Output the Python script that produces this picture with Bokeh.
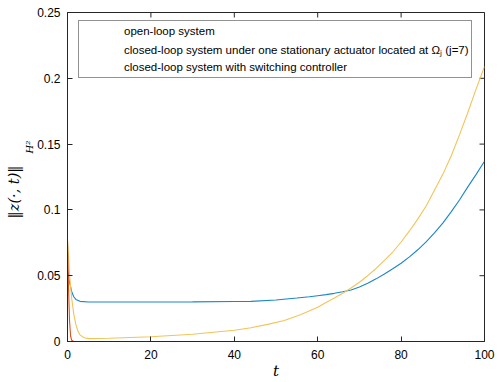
from bokeh.plotting import figure
from bokeh.models import Legend, LegendItem, FixedTicker, Range1d, Title
from bokeh.embed import file_html
from bokeh.resources import INLINE

# ---------------- data ----------------
t_open = [0, 0.5, 1, 1.5, 2, 3, 5, 10, 20, 30, 40, 44, 50, 55, 58, 60, 62, 64,
          66, 68, 70, 72, 74, 76, 78, 80, 82, 84, 86, 88, 90, 92, 94, 96, 98, 100]
z_open = [0.055, 0.045, 0.038, 0.034, 0.032, 0.0305, 0.0300, 0.0300, 0.0300,
          0.0301, 0.0304, 0.0305, 0.0315, 0.033, 0.034, 0.0348, 0.0356, 0.0366,
          0.0378, 0.0392, 0.0414, 0.0442, 0.0476, 0.0513, 0.0553, 0.0595,
          0.0643, 0.0697, 0.0757, 0.0825, 0.0900, 0.0985, 0.1075, 0.1175,
          0.127, 0.137]

t_stat = [0, 0.5, 1, 1.5, 2, 2.5, 3, 4, 5, 10, 20, 30, 40, 44, 48, 52, 56, 60,
          62, 64, 66, 68, 70, 72, 74, 76, 78, 80, 82, 84, 86, 88, 90, 92, 94,
          96, 98, 100]
z_stat = [0.077, 0.05, 0.033, 0.021, 0.013, 0.008, 0.005, 0.0028, 0.0022,
          0.0025, 0.0036, 0.0055, 0.0085, 0.0105, 0.013, 0.016, 0.0205, 0.026,
          0.0297, 0.033, 0.0366, 0.0406, 0.045, 0.050, 0.0555, 0.0616, 0.068,
          0.0756, 0.084, 0.093, 0.103, 0.115, 0.127, 0.141, 0.157, 0.174,
          0.192, 0.209]

t_switch = [0, 0.25, 0.5, 0.75, 1, 1.5, 100]
z_switch = [0.077, 0.04, 0.015, 0.004, 0.001, 0.0, 0.0]

x_ticks = [0, 20, 40, 60, 80, 100]
y_ticks = [0, 0.05, 0.1, 0.15, 0.2, 0.25]
y_tick_labels = ["0", "0.05", "0.1", "0.15", "0.2", "0.25"]

labels = ["open-loop system",
          "closed-loop system under one stationary actuator located at \u03a9\u2c7c (j=7)",
          "closed-loop system with switching controller"]
colors = ["#1A86C8", "#F2C458", "#D95319"]

# ---------------- figure ----------------
AX = "#262626"
X0, X1, Y0, Y1 = 0, 100, 0, 0.25
p = figure(width=499, height=382, output_backend="svg", toolbar_location=None,
           x_range=Range1d(X0, X1), y_range=Range1d(Y0, Y1),
           min_border_left=67, min_border_right=15, min_border_top=12,
           min_border_bottom=40)
p.background_fill_color = "white"
p.border_fill_color = "white"
p.outline_line_color = AX
p.outline_line_width = 1
p.xgrid.visible = False
p.ygrid.visible = False

# inward tick marks on the top and right edges of the box (5 px long)
tick_dx = 5 * (X1 - X0) / 417.0
tick_dy = 5 * (Y1 - Y0) / 330.0
p.segment(x0=x_ticks, y0=[Y1] * len(x_ticks), x1=x_ticks, y1=[Y1 - tick_dy] * len(x_ticks),
          line_color=AX, line_width=1)
p.segment(x0=[X1] * len(y_ticks), y0=y_ticks, x1=[X1 - tick_dx] * len(y_ticks), y1=y_ticks,
          line_color=AX, line_width=1)

# ---------------- lines ----------------
r1 = p.line(t_open, z_open, line_color=colors[0], line_width=1.1)
r2 = p.line(t_stat, z_stat, line_color=colors[1], line_width=1.1)
r3 = p.line(t_switch, z_switch, line_color=colors[2], line_width=1.1)

# legend proxies: separate empty renderers carrying each series' colour
k1 = p.line([], [], line_color=colors[0], line_width=1.3)
k2 = p.line([], [], line_color=colors[1], line_width=1.3)
k3 = p.line([], [], line_color=colors[2], line_width=1.3)

legend = Legend(items=[LegendItem(label=labels[0], renderers=[k1]),
                       LegendItem(label=labels[1], renderers=[k2]),
                       LegendItem(label=labels[2], renderers=[k3])],
                location=(11, 263))
legend.label_text_font = "Liberation Sans"
legend.label_text_font_size = "11.5px"
legend.label_text_color = "#000000"
legend.border_line_color = AX
legend.border_line_width = 1
legend.background_fill_alpha = 1
legend.padding = 2
legend.spacing = 2
legend.label_height = 16
legend.glyph_height = 16
legend.glyph_width = 40
legend.label_standoff = 3
legend.margin = 0
p.add_layout(legend, "center")

font = "Liberation Sans"
for ax in (p.xaxis[0], p.yaxis[0]):
    ax.axis_line_color = AX
    ax.major_tick_line_color = AX
    ax.minor_tick_line_color = None
    ax.major_tick_in = 5
    ax.major_tick_out = 0
    ax.major_label_text_font = font
    ax.major_label_text_font_size = "12px"
    ax.major_label_text_color = "#000000"

p.xaxis[0].ticker = FixedTicker(ticks=x_ticks)
p.yaxis[0].ticker = FixedTicker(ticks=y_ticks)
p.yaxis[0].major_label_overrides = {v: s for v, s in zip(y_ticks, y_tick_labels)}
p.xaxis[0].major_label_standoff = 8
p.yaxis[0].major_label_standoff = 7

p.xaxis[0].axis_label = "t"
p.xaxis[0].axis_label_text_font = "DejaVu Serif"
p.xaxis[0].axis_label_text_font_style = "italic"
p.xaxis[0].axis_label_text_font_size = "15px"
p.xaxis[0].axis_label_standoff = 0
p.xaxis[0].axis_label_text_color = "#000000"

# y-axis label as two stacked titles: subscript (inner) and main (outer)
sub = Title(text="H\u00b2", align="left", offset=188, standoff=0,
            text_font="DejaVu Serif", text_font_style="italic",
            text_font_size="10px", text_color="#000000")
main = Title(text="\u2016z(\u00b7, t)\u2016", align="left", offset=123, standoff=0,
             text_font="DejaVu Serif", text_font_style="italic",
             text_font_size="14.5px", text_color="#000000")
p.add_layout(sub, "left")
p.add_layout(main, "left")

open("out.html", "w").write(file_html(p, INLINE))
